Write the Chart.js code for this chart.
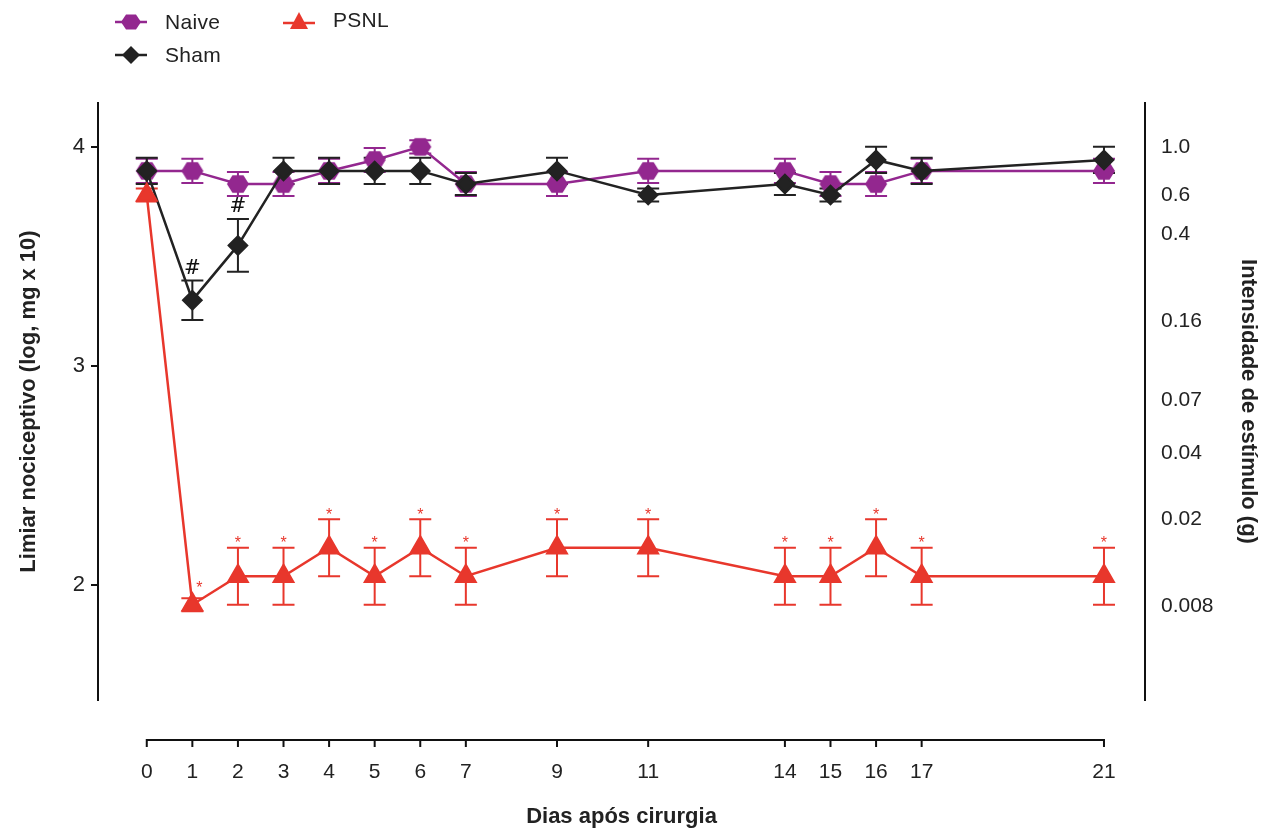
<!DOCTYPE html>
<html>
<head>
<meta charset="utf-8">
<script src="https://cdn.jsdelivr.net/npm/chart.js@4.4.1/dist/chart.umd.min.js"></script>
<style>
  html, body { margin: 0; padding: 0; background: #fff; }
  #wrap { position: relative; width: 1277px; height: 830px; }
  #legend { position: absolute; left: 0; top: 0; font-family: "Liberation Sans", Arial, sans-serif; font-size: 21px; color: #222; }
  .item { position: absolute; display: flex; align-items: center; white-space: nowrap; height: 24px; }
  .item span { margin-left: 16px; letter-spacing: 0.3px; }
</style>
</head>
<body>
<div id="wrap">
  <canvas id="plot" width="1277" height="830"></canvas>
  <div id="legend">
    <div class="item" style="left:113px; top:10px;">
      <svg width="36" height="24"><line x1="2" y1="12" x2="34" y2="12" stroke="#93278f" stroke-width="2.5"/><polygon points="8,12 13,4.5 23,4.5 28,12 23,19.5 13,19.5" fill="#93278f"/></svg>
      <span>Naive</span>
    </div>
    <div class="item" style="left:113px; top:43px;">
      <svg width="36" height="24"><line x1="2" y1="12" x2="34" y2="12" stroke="#222" stroke-width="2.5"/><polygon points="18,3 27,12 18,21 9,12" fill="#222"/></svg>
      <span>Sham</span>
    </div>
    <div class="item" style="left:281px; top:8px;">
      <svg width="36" height="24"><line x1="2" y1="15" x2="34" y2="15" stroke="#e8372c" stroke-width="2.5"/><polygon points="18,4 27,21 9,21" fill="#e8372c"/></svg>
      <span>PSNL</span>
    </div>
  </div>
</div>
<script>
var days = [0, 1, 2, 3, 4, 5, 6, 7, 9, 11, 14, 15, 16, 17, 21];

var naive = [3.89, 3.89, 3.83, 3.83, 3.89, 3.94, 4.00, 3.83, 3.83, 3.89, 3.89, 3.83, 3.83, 3.89, 3.89];
var naiveErr = [0.055, 0.055, 0.055, 0.055, 0.055, 0.055, 0.03, 0.055, 0.055, 0.055, 0.055, 0.055, 0.055, 0.055, 0.055];

var sham = [3.89, 3.30, 3.55, 3.89, 3.89, 3.89, 3.89, 3.83, 3.89, 3.78, 3.83, 3.78, 3.94, 3.89, 3.94];
var shamErr = [0.06, 0.09, 0.12, 0.06, 0.06, 0.06, 0.06, 0.05, 0.06, 0.03, 0.05, 0.03, 0.06, 0.06, 0.06];

var psnl = [3.78, 1.91, 2.04, 2.04, 2.17, 2.04, 2.17, 2.04, 2.17, 2.17, 2.04, 2.04, 2.17, 2.04, 2.04];
var psnlErr = [0.03, 0.03, 0.13, 0.13, 0.13, 0.13, 0.13, 0.13, 0.13, 0.13, 0.13, 0.13, 0.13, 0.13, 0.13];

// marks above points: '#' for Sham, '*' for PSNL
var shamMarks = ["", "#", "#", "", "", "", "", "", "", "", "", "", "", "", ""];
var psnlMarks = ["", "*", "*", "*", "*", "*", "*", "*", "*", "*", "*", "*", "*", "*", "*"];

var leftTicks = [2, 3, 4];
var rightTickGrams = [1.0, 0.6, 0.4, 0.16, 0.07, 0.04, 0.02, 0.008];
var rightTickLabels = ["1.0", "0.6", "0.4", "0.16", "0.07", "0.04", "0.02", "0.008"];

var FONT = "'Liberation Sans', Arial, sans-serif";
var purple = "#93278f";
var black = "#222222";
var red = "#e8372c";

function hexagon(color, r) {
  const c = document.createElement('canvas');
  c.width = 2 * r + 2;
  c.height = 2 * r + 2;
  const g = c.getContext('2d');
  g.fillStyle = color;
  g.beginPath();
  for (let i = 0; i < 6; i++) {
    const a = Math.PI / 3 * i;
    g.lineTo(r + 1 + r * Math.cos(a), r + 1 + r * Math.sin(a) * 0.92);
  }
  g.closePath();
  g.fill();
  return c;
}

function pts(vals) {
  return vals.map((v, i) => ({ x: days[i], y: v }));
}

const errorBars = {
  id: 'errorBars',
  beforeDatasetsDraw(chart) {
    const { ctx, scales: { x, y } } = chart;
    ctx.save();
    chart.data.datasets.forEach((ds) => {
      ctx.strokeStyle = ds.borderColor;
      ctx.lineWidth = 2;
      ds.errors.forEach((e, j) => {
        if (!e) return;
        const xp = x.getPixelForValue(days[j]);
        const y1 = y.getPixelForValue(ds.data[j].y + e);
        const y2 = y.getPixelForValue(ds.data[j].y - e);
        ctx.beginPath();
        ctx.moveTo(xp, y1); ctx.lineTo(xp, y2);
        ctx.moveTo(xp - 11, y1); ctx.lineTo(xp + 11, y1);
        ctx.moveTo(xp - 11, y2); ctx.lineTo(xp + 11, y2);
        ctx.stroke();
      });
    });
    ctx.restore();
  },
  afterDatasetsDraw(chart) {
    const { ctx, scales: { x, y } } = chart;
    ctx.save();
    ctx.textAlign = 'center';
    ctx.textBaseline = 'bottom';
    chart.data.datasets.forEach((ds) => {
      if (!ds.marks) return;
      ctx.fillStyle = ds.markColor;
      ctx.font = ds.markFont;
      ds.marks.forEach((m, j) => {
        if (!m) return;
        let xp = x.getPixelForValue(days[j]);
        let yp = y.getPixelForValue(ds.data[j].y + ds.errors[j]) - 2;
        if (ds.errors[j] < 0.05) { xp += 7; yp -= 6; }
        ctx.fillText(m, xp, yp + (m === '*' ? 6 : 0));
      });
    });
    ctx.restore();
  }
};

// x axis drawn as a separate line below the plot, from day 0 to day 21
const xAxisLine = {
  id: 'xAxisLine',
  afterDraw(chart) {
    const { ctx, scales: { x } } = chart;
    const yl = 740;
    ctx.save();
    ctx.strokeStyle = '#111';
    ctx.lineWidth = 2;
    ctx.beginPath();
    ctx.moveTo(x.getPixelForValue(days[0]) - 1, yl);
    ctx.lineTo(x.getPixelForValue(days[days.length - 1]) + 1, yl);
    days.forEach(d => {
      const xp = x.getPixelForValue(d);
      ctx.moveTo(xp, yl);
      ctx.lineTo(xp, yl + 7);
    });
    ctx.stroke();
    ctx.restore();
  }
};

new Chart("plot", {
  type: "line",
  data: {
    datasets: [{
      label: "Naive",
      data: pts(naive),
      errors: naiveErr,
      borderColor: purple,
      backgroundColor: purple,
      borderWidth: 2.5,
      pointStyle: hexagon(purple, 11),
      pointRadius: 10,
      order: 3
    }, {
      label: "Sham",
      data: pts(sham),
      errors: shamErr,
      marks: shamMarks,
      markColor: "#111",
      markFont: "20px 'DejaVu Serif', serif",
      borderColor: black,
      backgroundColor: black,
      borderWidth: 2.5,
      pointStyle: "rectRot",
      pointRadius: 9,
      order: 2
    }, {
      label: "PSNL",
      data: pts(psnl),
      errors: psnlErr,
      marks: psnlMarks,
      markColor: red,
      markFont: "16px " + FONT,
      borderColor: red,
      backgroundColor: red,
      borderWidth: 2.5,
      pointStyle: "triangle",
      pointRadius: 11,
      order: 1
    }]
  },
  options: {
    responsive: false,
    animation: false,
    layout: { padding: { top: 103, left: 0, right: 0, bottom: 0 } },
    plugins: {
      legend: { display: false },
      tooltip: { enabled: false }
    },
    scales: {
      x: {
        type: "linear",
        min: -1.07,
        max: 21.9,
        afterBuildTicks: (s) => { s.ticks = days.map(d => ({ value: d })); },
        afterFit: (s) => { s.height = 130; },
        grid: { display: false, drawTicks: false },
        border: { display: false },
        ticks: {
          autoSkip: false,
          maxRotation: 0,
          padding: 60,
          color: "#222",
          font: { family: FONT, size: 21 }
        },
        title: {
          display: true,
          text: "Dias após cirurgia",
          color: "#222",
          font: { family: FONT, size: 22, weight: "bold" },
          padding: { top: 8, bottom: 0 }
        }
      },
      y: {
        position: "left",
        min: 1.475,
        max: 4.2,
        afterBuildTicks: (s) => { s.ticks = leftTicks.map(v => ({ value: v })); },
        afterFit: (s) => { s.width = 98; },
        grid: { drawOnChartArea: false, drawTicks: true, tickLength: 7, color: "#111", lineWidth: 2 },
        border: { display: true, color: "#111", width: 2 },
        ticks: {
          padding: 6,
          color: "#222",
          font: { family: FONT, size: 22 }
        },
        title: {
          display: true,
          text: "Limiar nociceptivo (log, mg x 10)",
          color: "#222",
          font: { family: FONT, size: 22, weight: "bold" },
          padding: { top: 16, bottom: 0 }
        }
      },
      y1: {
        position: "right",
        min: 1.475,
        max: 4.2,
        afterBuildTicks: (s) => { s.ticks = rightTickGrams.map(g => ({ value: Math.log10(g * 10000) })); },
        afterFit: (s) => { s.width = 132; },
        grid: { display: false, drawTicks: false },
        border: { display: true, color: "#111", width: 2 },
        ticks: {
          autoSkip: false,
          padding: 16,
          color: "#222",
          font: { family: FONT, size: 21 },
          callback: (v, i) => rightTickLabels[i]
        },
        title: {
          display: true,
          text: "Intensidade de estímulo (g)",
          color: "#222",
          font: { family: FONT, size: 22, weight: "bold" },
          padding: { top: 16, bottom: 0 }
        }
      }
    }
  },
  plugins: [errorBars, xAxisLine]
});
</script>
</body>
</html>
